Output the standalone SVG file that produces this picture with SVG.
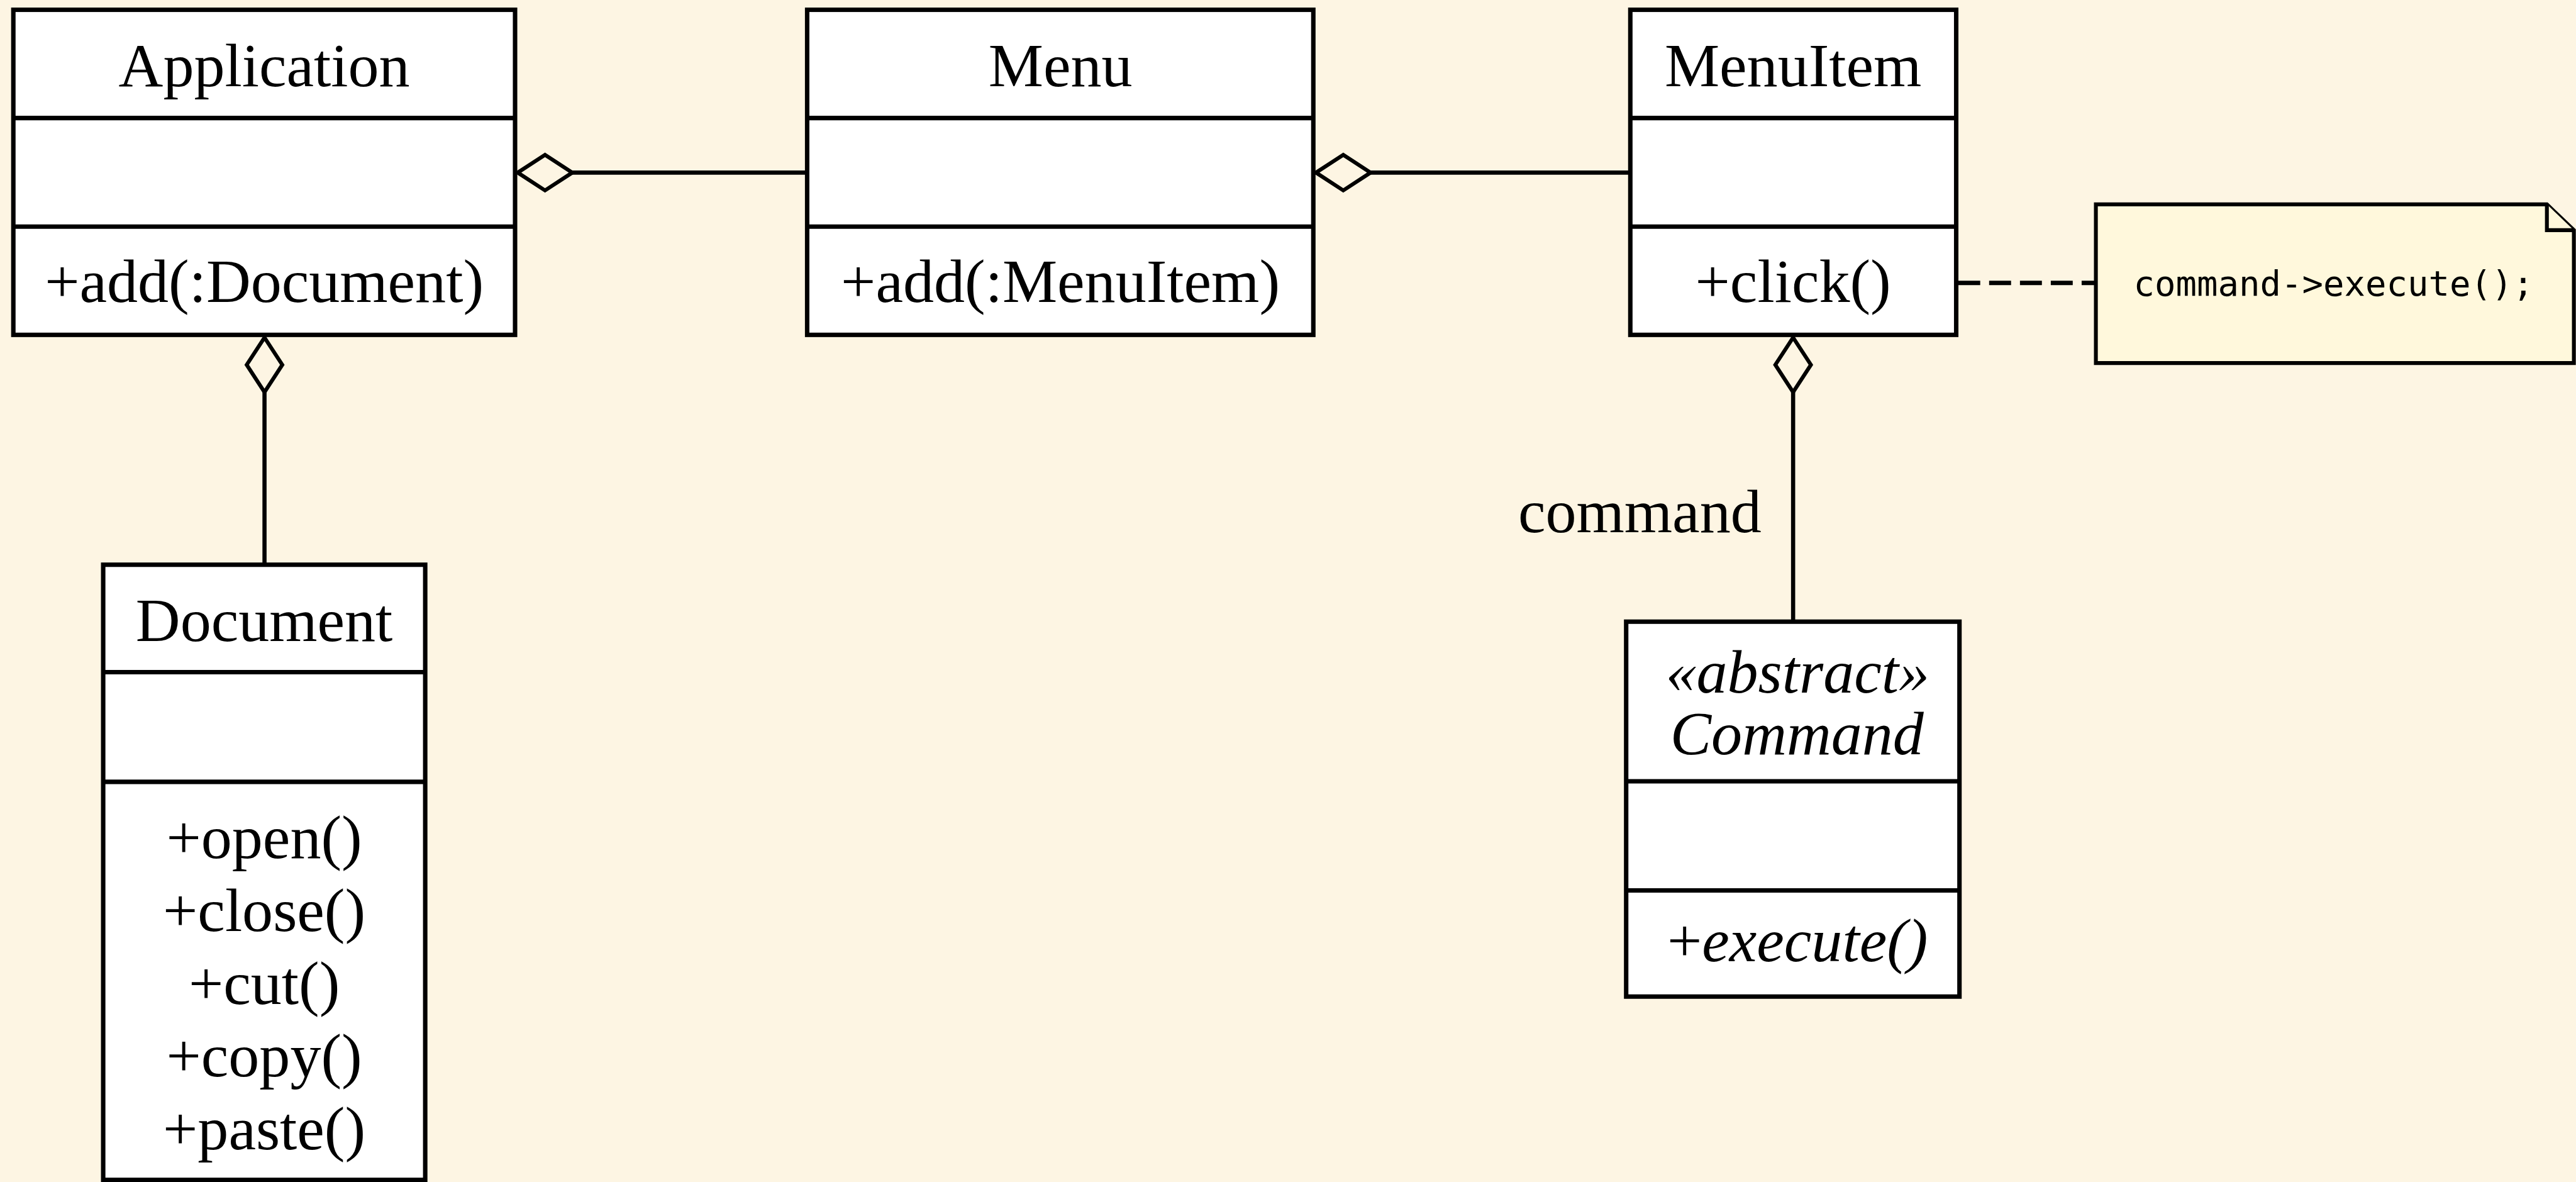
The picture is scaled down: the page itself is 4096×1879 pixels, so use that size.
<svg xmlns="http://www.w3.org/2000/svg" width="4096" height="1879" viewBox="0 0 4096 1879">
  <style>
    .box { fill: #ffffff; stroke: #000000; stroke-width: 7.5; }
    .div { stroke: #000000; stroke-width: 7.5; }
    .txt { font-family: "Liberation Serif", "Times New Roman", serif; font-size: 104px; fill: #000000; text-anchor: middle; }
    .ital { font-style: italic; }
    .link { fill: none; stroke: #000000; stroke-width: 7; }
    .dash { fill: none; stroke: #000000; stroke-width: 7.5; stroke-dasharray: 37 15; }
    .note { fill: #fff8dc; stroke: #000000; stroke-width: 6.5; stroke-linejoin: miter; }
    .mono { font-family: "DejaVu Sans Mono", "Liberation Mono", monospace; font-size: 59px; fill: #000000; text-anchor: middle; }
  </style>
  <defs>
    <!-- hollow aggregation diamond, placed at the owning class -->
    <marker id="aggregation" markerUnits="userSpaceOnUse" orient="auto" refX="0" refY="0" markerWidth="100" markerHeight="80" overflow="visible">
      <path d="M0,0 L46,-30 L92,0 L46,30 Z" fill="#fdf5e3" stroke="#000000" stroke-width="6.5"/>
    </marker>
  </defs>

  <rect x="0" y="0" width="4096" height="1879" fill="#fdf5e3"/>

  <g transform="scale(0.943)">
    <!-- associations -->
    <g id="connectors">
      <path class="link" d="M873,291 H1361" marker-start="url(#aggregation)"/>
      <path class="link" d="M2219,291 H2749" marker-start="url(#aggregation)"/>
      <path class="link" d="M446,569 V952" marker-start="url(#aggregation)"/>
      <path class="link" d="M3023.5,569 V1048" marker-start="url(#aggregation)"/>
      <text class="txt" x="2970" y="897" style="text-anchor:end">command</text>
      <path class="dash" d="M3302,477 H3534"/>
    </g>

    <g id="application">
      <rect class="box" x="22.5" y="16.5" width="846" height="548"/>
      <line class="div" x1="22.5" y1="199" x2="868.5" y2="199"/>
      <line class="div" x1="22.5" y1="382" x2="868.5" y2="382"/>
      <text class="txt" x="445.5" y="145">Application</text>
      <text class="txt" x="445.5" y="509">+add(:Document)</text>
    </g>

    <g id="menu">
      <rect class="box" x="1361" y="16.5" width="853.5" height="548"/>
      <line class="div" x1="1361" y1="199" x2="2214.5" y2="199"/>
      <line class="div" x1="1361" y1="382" x2="2214.5" y2="382"/>
      <text class="txt" x="1788" y="145">Menu</text>
      <text class="txt" x="1788" y="509">+add(:MenuItem)</text>
    </g>

    <g id="menuitem">
      <rect class="box" x="2749" y="16.5" width="549.5" height="548"/>
      <line class="div" x1="2749" y1="199" x2="3298.5" y2="199"/>
      <line class="div" x1="2749" y1="382" x2="3298.5" y2="382"/>
      <text class="txt" x="3023.5" y="145">MenuItem</text>
      <text class="txt" x="3023.5" y="509">+click()</text>
    </g>

    <g id="note">
      <path class="note" d="M3534,344.5 H4294.5 L4340,388 V612 H3534 Z"/>
      <path class="note" d="M4294.5,344.5 V388 H4340"/>
      <text class="mono" x="3935" y="498">command-&gt;execute();</text>
    </g>

    <g id="document">
      <rect class="box" x="174" y="952" width="543" height="1037"/>
      <line class="div" x1="174" y1="1133" x2="717" y2="1133"/>
      <line class="div" x1="174" y1="1318" x2="717" y2="1318"/>
      <text class="txt" x="445.5" y="1081">Document</text>
      <text class="txt" x="445.5" y="1446">+open()</text>
      <text class="txt" x="445.5" y="1569">+close()</text>
      <text class="txt" x="445.5" y="1692">+cut()</text>
      <text class="txt" x="445.5" y="1814">+copy()</text>
      <text class="txt" x="445.5" y="1937">+paste()</text>
    </g>

    <g id="command">
      <rect class="box" x="2742" y="1048" width="562" height="632"/>
      <line class="div" x1="2742" y1="1317" x2="3304" y2="1317"/>
      <line class="div" x1="2742" y1="1501" x2="3304" y2="1501"/>
      <text class="txt ital" x="3031" y="1168">«abstract»</text>
      <text class="txt ital" x="3030" y="1272">Command</text>
      <text class="txt" x="3031" y="1620">+<tspan class="ital">execute()</tspan></text>
    </g>
  </g>
</svg>
